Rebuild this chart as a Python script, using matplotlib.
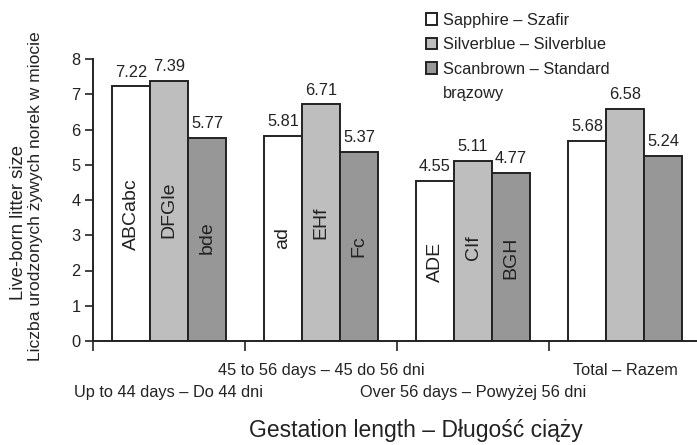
import numpy as np
import matplotlib
matplotlib.use("Agg")
from matplotlib import pyplot as plt
from matplotlib.patches import Rectangle

plt.rcParams['font.family'] = ['Liberation Sans', 'DejaVu Sans']

# data
groups = ['Up to 44 days – Do 44 dni', '45 to 56 days – 45 do 56 dni',
          'Over 56 days – Powyżej 56 dni', 'Total – Razem']
series = ['Sapphire – Szafir', 'Silverblue – Silverblue', 'Scanbrown – Standard\nbrązowy']
sapphire = [7.22, 5.81, 4.55, 5.68]
silverblue = [7.39, 6.71, 5.11, 6.58]
scanbrown = [5.77, 5.37, 4.77, 5.24]
letters_sapphire = ['ABCabc', 'ad', 'ADE', '']
letters_silverblue = ['DFGle', 'EHf', 'CIf', '']
letters_scanbrown = ['bde', 'Fc', 'BGH', '']

# where the letter groups sit inside the bars (y, in data units)
letter_y = [[3.6, 2.92, 2.24, 0], [3.72, 3.35, 2.64, 0], [2.92, 2.7, 2.35, 0]]

colors = ['white', '#bebebe', '#979797']
ink = '#222222'
fs = 11.8

fig = plt.figure(figsize=(6.97, 4.45), dpi=100)
ax = fig.add_axes([93/697, 104/445, 608/697, 282/445])

x = np.arange(len(groups))
w = 0.25
values = [sapphire, silverblue, scanbrown]
letters = [letters_sapphire, letters_silverblue, letters_scanbrown]
for i in range(3):
    pos = x + (i - 1) * w
    bars = ax.bar(pos, values[i], width=w, color=colors[i], edgecolor=ink,
                  linewidth=1.4, zorder=2)
    for b, v in zip(bars, values[i]):
        ax.annotate('%.2f' % v, (b.get_x() + b.get_width()/2, v),
                    xytext=(0, 5), textcoords='offset points',
                    ha='center', va='bottom', fontsize=fs, color=ink)
    for j in range(len(groups)):
        if letters[i][j]:
            ax.text(pos[j], letter_y[i][j], letters[i][j], rotation=90,
                    ha='center', va='center', fontsize=14, color=ink)

ax.set_xlim(-0.5, 3.5)
ax.set_ylim(0, 8)
ax.set_yticks(range(0, 9))
ax.set_xticks(np.arange(-0.5, 3.0, 1.0))
ax.set_xticklabels([])
ax.tick_params(axis='x', direction='out', length=7.5, width=1.2, color=ink)
ax.tick_params(axis='y', direction='out', length=6, width=1.2, color=ink,
               labelsize=fs, labelcolor=ink, pad=3)
for s in ['top', 'right']:
    ax.spines[s].set_visible(False)
for s in ['left', 'bottom']:
    ax.spines[s].set_linewidth(1.4)
    ax.spines[s].set_color(ink)

# staggered category labels
for j, g in enumerate(groups):
    off = -21 if j % 2 else -37
    ax.annotate(g, (x[j], 0), xycoords=('data', 'axes fraction'),
                xytext=(0, off), textcoords='offset points',
                ha='center', va='center', fontsize=fs, color=ink)

fig.text(416/697, 1 - 430/445, 'Gestation length – Długość ciąży', ha='center',
         va='center', fontsize=16.5, color=ink)

fig.text(19/697, 1 - 222/445, 'Live-born litter size', rotation=90,
         ha='center', va='center', fontsize=13.3, color=ink)
fig.text(36/697, 1 - 196/445, 'Liczba urodzonych żywych norek w miocie',
         rotation=90, ha='center', va='center', fontsize=12.6, color=ink)

# legend: the last label wraps onto a second row without a box
handles = [Rectangle((0, 0), 1, 1, facecolor=c, edgecolor=ink, linewidth=1.4)
           for c in colors]
labels = [s.split('\n')[0] for s in series]
handles.append(Rectangle((0, 0), 1, 1, visible=False))
labels.append(series[2].split('\n')[1])
leg = fig.legend(handles, labels, loc='upper left',
                 bbox_to_anchor=(419/697, 1 - 6/445),
                 frameon=False, fontsize=fs, handlelength=0.7, handleheight=0.7,
                 handletextpad=0.35, labelspacing=0.58, borderaxespad=0)
for t in leg.get_texts():
    t.set_color(ink)

fig.savefig('out.png', dpi=100)
